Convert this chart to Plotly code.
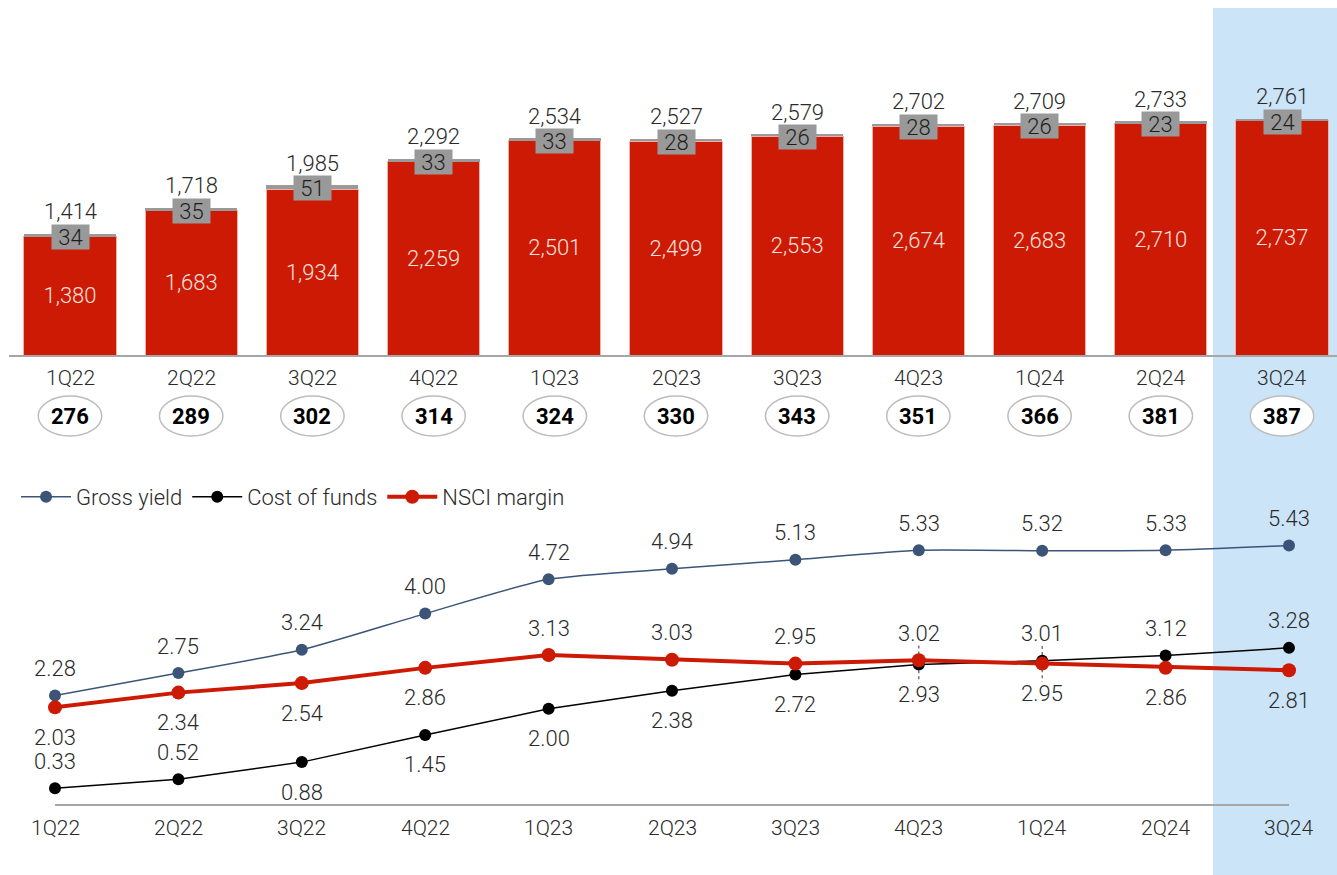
import plotly.graph_objects as go

quarters = ["1Q22", "2Q22", "3Q22", "4Q22", "1Q23", "2Q23", "3Q23", "4Q23", "1Q24", "2Q24", "3Q24"]
main_vals = [1380, 1683, 1934, 2259, 2501, 2499, 2553, 2674, 2683, 2710, 2737]
small_vals = [34, 35, 51, 33, 33, 28, 26, 28, 26, 23, 24]
totals = [1414, 1718, 1985, 2292, 2534, 2527, 2579, 2702, 2709, 2733, 2761]
circled = [276, 289, 302, 314, 324, 330, 343, 351, 366, 381, 387]

gross_yield = [2.28, 2.75, 3.24, 4.00, 4.72, 4.94, 5.13, 5.33, 5.32, 5.33, 5.43]
cost_funds = [0.33, 0.52, 0.88, 1.45, 2.00, 2.38, 2.72, 2.93, 3.01, 3.12, 3.28]
nsci = [2.03, 2.34, 2.54, 2.86, 3.13, 3.03, 2.95, 3.02, 2.95, 2.86, 2.81]
cost_pos = ["up", "up", "down", "down", "down", "down", "down", "down", "up", "up", "up"]
nsci_pos = ["down", "down", "down", "down", "up", "up", "up", "up", "down", "down", "down"]

W, H = 1337, 875
FONT = "Roboto"
RED = "#cc1a04"
NAVY = "#3b5478"
TXT = "#2a2a2a"

def py(pix):
    return 1 - pix / H

def tfont(size=21, color=TXT, weight=300):
    return dict(family=FONT, size=size, color=color, weight=weight)

idx = list(range(len(quarters)))

fig = go.Figure()

# top stacked bars
fig.add_trace(go.Bar(
    x=idx, y=main_vals, marker=dict(color=RED, line=dict(color="#efb0a8", width=1)),
    width=0.76, text=[f"{v:,}" for v in main_vals], textposition="inside",
    insidetextanchor="middle", textangle=0,
    textfont=tfont(22, "#f8e0dc"),
    xaxis="x", yaxis="y", showlegend=False, hoverinfo="skip"))
fig.add_trace(go.Bar(
    x=idx, y=small_vals, marker=dict(color="#9a9a9a", line=dict(width=0)),
    width=0.76, xaxis="x", yaxis="y", showlegend=False, hoverinfo="skip"))

# bottom lines
fig.add_trace(go.Scatter(
    x=idx, y=gross_yield, name="Gross yield", mode="lines+markers",
    line=dict(color=NAVY, width=1.5, shape="spline", smoothing=0.6),
    marker=dict(color=NAVY, size=12), cliponaxis=False, xaxis="x2", yaxis="y2"))
fig.add_trace(go.Scatter(
    x=idx, y=cost_funds, name="Cost of funds", mode="lines+markers",
    line=dict(color="#000000", width=1.5),
    marker=dict(color="#000000", size=12), cliponaxis=False, xaxis="x2", yaxis="y2"))
fig.add_trace(go.Scatter(
    x=idx, y=nsci, name="NSCI margin", mode="lines+markers",
    line=dict(color=RED, width=4),
    marker=dict(color=RED, size=14), cliponaxis=False, xaxis="x2", yaxis="y2"))

ann = []
shapes = []

# highlight band
shapes.append(dict(type="rect", xref="paper", yref="paper", x0=1213 / W, x1=1, y0=0, y1=py(8),
                   fillcolor="#cce4f8", line=dict(width=0), layer="below"))

for i in idx:
    # totals above bars
    ann.append(dict(x=i, y=totals[i], xref="x", yref="y", text=f"{totals[i]:,}", showarrow=False,
                    yshift=22, yanchor="middle", font=tfont(22)))
    # gray value box
    ann.append(dict(x=i, y=totals[i], xref="x", yref="y", text=str(small_vals[i]), showarrow=False,
                    yshift=-3, yanchor="middle", bgcolor="#999999", borderpad=0, width=37, height=24,
                    font=tfont(22, "#1e1e1e")))
    # top category labels
    ann.append(dict(x=i, y=py(378), xref="x", yref="paper", text=quarters[i], showarrow=False,
                    yanchor="middle", font=tfont(21)))
    # circled numbers
    shapes.append(dict(type="circle", xref="x", yref="paper", x0=i - 0.262, x1=i + 0.262,
                       y0=py(436), y1=py(396), fillcolor="white",
                       line=dict(color="#bdbdbd", width=1.5)))
    ann.append(dict(x=i, y=py(416), xref="x", yref="paper", text=f"<b>{circled[i]}</b>", showarrow=False,
                    yanchor="middle", font=tfont(22, "#000000", 700)))
    # bottom category labels
    ann.append(dict(x=i, y=py(828), xref="x2", yref="paper", text=quarters[i], showarrow=False,
                    yanchor="middle", font=tfont(21)))
    # data labels
    ann.append(dict(x=i, y=gross_yield[i], xref="x2", yref="y2", text=f"{gross_yield[i]:.2f}",
                    showarrow=False, yshift=27, yanchor="middle", font=tfont(22)))
    ann.append(dict(x=i, y=cost_funds[i], xref="x2", yref="y2", text=f"{cost_funds[i]:.2f}",
                    showarrow=False, yshift=27 if cost_pos[i] == "up" else -30, yanchor="middle",
                    font=tfont(22)))
    ann.append(dict(x=i, y=nsci[i], xref="x2", yref="y2", text=f"{nsci[i]:.2f}",
                    showarrow=False, yshift=27 if nsci_pos[i] == "up" else -30, yanchor="middle",
                    font=tfont(22)))

# dashed leader ticks at crowded points (4Q23, 1Q24)
for i in (7, 8):
    hi = max(nsci[i], cost_funds[i])
    lo = min(nsci[i], cost_funds[i])
    shapes.append(dict(type="line", xref="x2", yref="y2", x0=i, x1=i, y0=hi + 0.12, y1=hi + 0.32,
                       line=dict(color="#555555", width=1.2, dash="3px,3px")))
    shapes.append(dict(type="line", xref="x2", yref="y2", x0=i, x1=i, y0=lo - 0.12, y1=lo - 0.38,
                       line=dict(color="#555555", width=1.2, dash="3px,3px")))

top_px_per = 0.0856
top_dom = [py(355), py(100)]
top_range = [0, (355 - 100) / top_px_per]
x1_left = 9.4 / W
x1_units = (W - 9.4) / 121.2
bot_px_per = 47.6
bot_dom = [py(804), py(518)]
bot_range = [0, (804 - 518) / bot_px_per]

fig.update_layout(
    width=W, height=H, margin=dict(l=0, r=0, t=0, b=0),
    plot_bgcolor="rgba(0,0,0,0)", paper_bgcolor="white",
    barmode="stack", bargap=0.24,
    font=dict(family=FONT, color=TXT),
    xaxis=dict(domain=[x1_left, 1], range=[-0.5, -0.5 + x1_units], showgrid=False, zeroline=False,
               showticklabels=False, showline=True, linecolor="#a6a6a6", linewidth=2,
               anchor="y", fixedrange=True),
    yaxis=dict(domain=top_dom, range=top_range, showgrid=False, zeroline=False, visible=False,
               anchor="x"),
    xaxis2=dict(domain=[55 / W, 1289 / W], range=[0, 10], showgrid=False, zeroline=False,
                showticklabels=False, showline=True, linecolor="#a6a6a6", linewidth=2, anchor="y2"),
    yaxis2=dict(domain=bot_dom, range=bot_range, showgrid=False, zeroline=False, visible=False,
                anchor="x2"),
    legend=dict(orientation="h", x=0.012, xanchor="left", y=py(476), yanchor="top",
                font=tfont(22), bgcolor="rgba(0,0,0,0)",
                itemwidth=50, traceorder="normal"),
    annotations=ann, shapes=shapes,
)

fig.write_html("out.html")
